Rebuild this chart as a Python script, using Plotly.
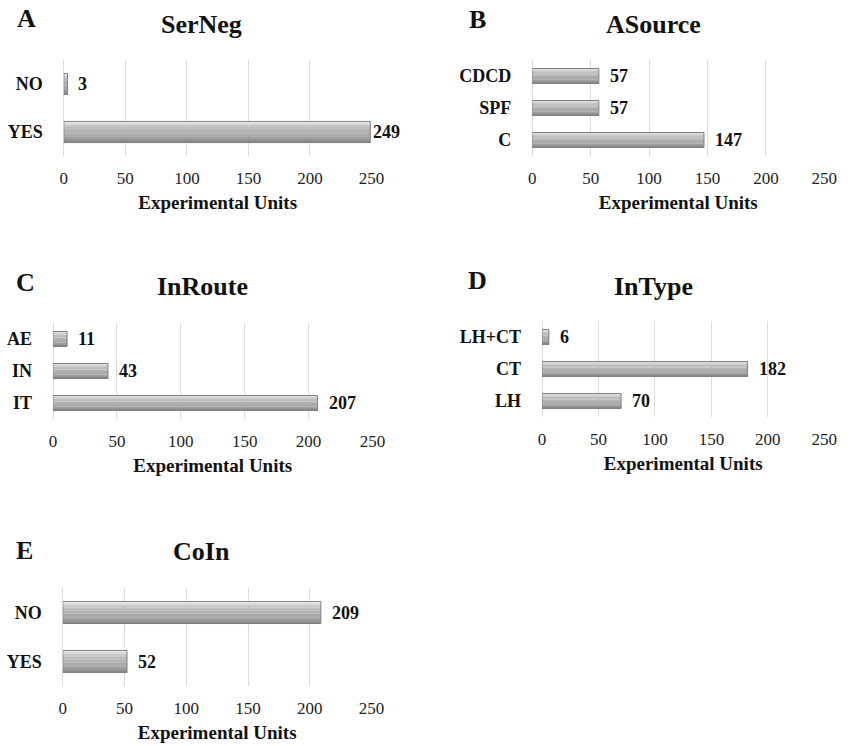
import plotly.graph_objects as go

W, H = 853, 746
FONT = "Liberation Serif, Times New Roman, serif"

# ---- data ----
serneg_cats = ["YES", "NO"]
serneg_vals = [249, 3]
asource_cats = ["C", "SPF", "CDCD"]
asource_vals = [147, 57, 57]
inroute_cats = ["IT", "IN", "AE"]
inroute_vals = [207, 43, 11]
intype_cats = ["LH", "CT", "LH+CT"]
intype_vals = [70, 182, 6]
coin_cats = ["YES", "NO"]
coin_vals = [52, 209]
x_tick_vals = [0, 50, 100, 150, 200, 250]
x_title = "Experimental Units"

panels = [
    dict(letter="A", title="SerNeg", cats=serneg_cats, vals=serneg_vals,
         xpx=(61, 375), ypx=(60, 156), bw=0.44, tpx=(202, 24), lpx=(23, 18)),
    dict(letter="B", title="ASource", cats=asource_cats, vals=asource_vals,
         xpx=(539, 837), ypx=(60, 156), bw=0.47, tpx=(663, 24), lpx=(483, 19)),
    dict(letter="C", title="InRoute", cats=inroute_cats, vals=inroute_vals,
         xpx=(50, 376), ypx=(323, 419), bw=0.47, tpx=(203, 286), lpx=(22, 283)),
    dict(letter="D", title="InType", cats=intype_cats, vals=intype_vals,
         xpx=(549, 837), ypx=(321, 417), bw=0.47, tpx=(663, 286), lpx=(483, 281)),
    dict(letter="E", title="CoIn", cats=coin_cats, vals=coin_vals,
         xpx=(60, 375), ypx=(588, 686), bw=0.45, tpx=(202, 551), lpx=(21, 550)),
]

# cylinder-like shading bands: (fraction from top, fraction height, colour)
bands = [
    (0.00, 0.08, "#ececec"),
    (0.08, 0.08, "#dadada"),
    (0.16, 0.10, "#c9c9c9"),
    (0.26, 0.14, "#bdbdbd"),
    (0.40, 0.16, "#b3b3b3"),
    (0.56, 0.16, "#aaaaaa"),
    (0.72, 0.12, "#a0a0a0"),
    (0.84, 0.08, "#959595"),
    (0.92, 0.08, "#878787"),
]

fig = go.Figure()
layout = dict(
    width=W, height=H, margin=dict(l=0, r=0, t=0, b=0),
    paper_bgcolor="white", plot_bgcolor="white",
    showlegend=False, barmode="overlay",
    font=dict(family=FONT, color="#111111"),
)
annotations = []

for i, p in enumerate(panels):
    n = i + 1
    xa = "x" if n == 1 else f"x{n}"
    ya = "y" if n == 1 else f"y{n}"
    xkey = "xaxis" if n == 1 else f"xaxis{n}"
    ykey = "yaxis" if n == 1 else f"yaxis{n}"
    bw = p["bw"]
    nv = len(p["vals"])
    for ftop, fh, col in bands:
        w = bw * fh
        off = bw / 2 - bw * ftop - w
        fig.add_trace(go.Bar(
            x=p["vals"], y=p["cats"], orientation="h",
            width=[w * 1.02] * nv, offset=[off] * nv,
            marker=dict(color=col, line=dict(width=0)),
            xaxis=xa, yaxis=ya, hoverinfo="skip",
        ))
    # outline
    fig.add_trace(go.Bar(
        x=p["vals"], y=p["cats"], orientation="h",
        width=[bw] * nv, offset=[-bw / 2] * nv,
        marker=dict(color="rgba(0,0,0,0)", line=dict(color="#808080", width=1)),
        xaxis=xa, yaxis=ya, hoverinfo="skip",
    ))
    x0, x1 = p["xpx"]
    y0, y1 = p["ypx"]
    layout[xkey] = dict(
        domain=[x0 / W, x1 / W], anchor=ya, range=[0, 250],
        tickmode="array", tickvals=x_tick_vals,
        showgrid=True, gridcolor="#dcdcdc", gridwidth=1,
        zeroline=True, zerolinecolor="#dcdcdc", zerolinewidth=1,
        showline=False, ticks="",
        tickfont=dict(family=FONT, size=17, color="#222222"),
        ticklabelstandoff=10,
        title=dict(text=f"<b>{x_title}</b>", standoff=8,
                   font=dict(family=FONT, size=19, color="#111111")),
        fixedrange=True,
    )
    layout[ykey] = dict(
        domain=[1 - y1 / H, 1 - y0 / H], anchor=xa,
        type="category", categoryorder="array", categoryarray=p["cats"],
        range=[-0.5, len(p["cats"]) - 0.5],
        showgrid=False, zeroline=False, showline=False, ticks="",
        tickmode="array", tickvals=p["cats"],
        ticktext=[f"<b>{c}</b>" for c in p["cats"]],
        tickfont=dict(family=FONT, size=18, color="#111111"),
        ticklabelstandoff=20,
        fixedrange=True,
    )
    # value labels
    for c, v in zip(p["cats"], p["vals"]):
        annotations.append(dict(
            x=v, y=c, xref=xa, yref=ya, text=f"<b>{v}</b>",
            showarrow=False, xanchor="left", yanchor="middle",
            xshift=1 if v > 240 else 9,
            font=dict(family=FONT, size=18, color="#111111"),
        ))
    # panel title
    annotations.append(dict(
        x=p["tpx"][0] / W, y=1 - p["tpx"][1] / H, xref="paper", yref="paper",
        text=f"<b>{p['title']}</b>", showarrow=False,
        xanchor="center", yanchor="middle",
        font=dict(family=FONT, size=26, color="#111111"),
    ))
    # panel letter
    annotations.append(dict(
        x=p["lpx"][0] / W, y=1 - p["lpx"][1] / H, xref="paper", yref="paper",
        text=f"<b>{p['letter']}</b>", showarrow=False,
        xanchor="center", yanchor="middle",
        font=dict(family=FONT, size=26, color="#111111"),
    ))

layout["annotations"] = annotations
fig.update_layout(**layout)
fig.write_html("out.html")
